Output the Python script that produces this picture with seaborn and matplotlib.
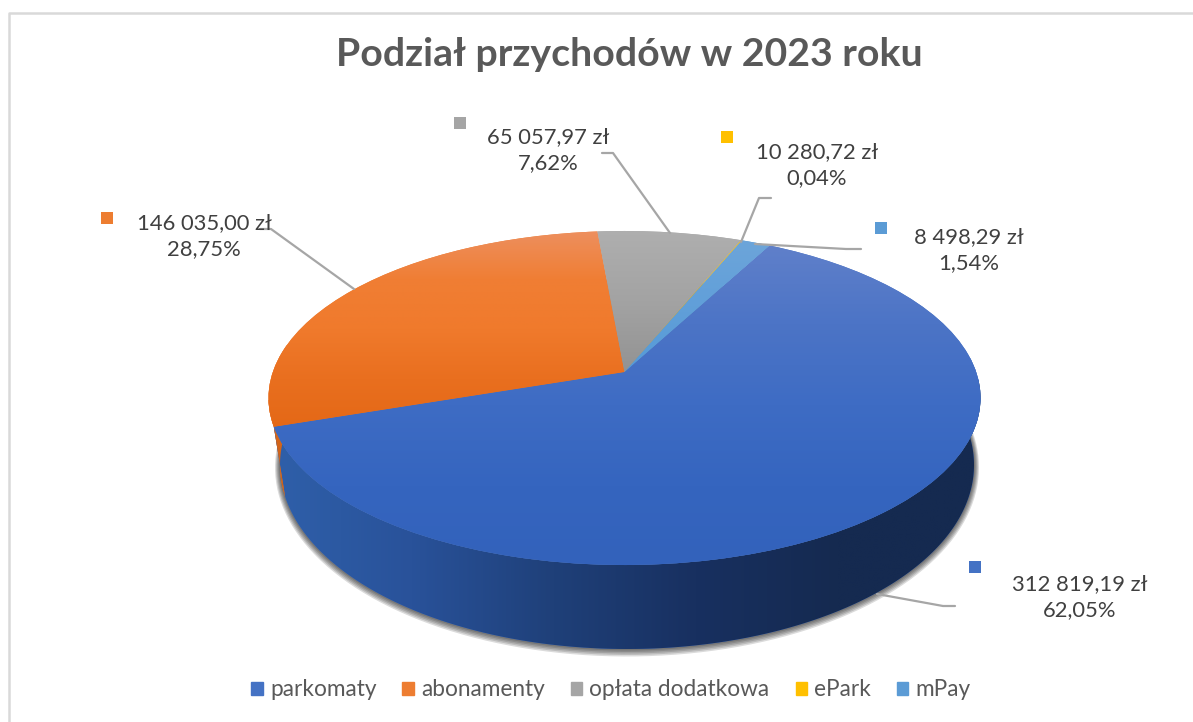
import numpy as np
import seaborn as sns
import matplotlib.pyplot as plt
from matplotlib.lines import Line2D
from matplotlib.patches import Patch, Polygon
from matplotlib.transforms import Transform

tytul = "Podział przychodów w 2023 roku"
kategorie = ["parkomaty", "abonamenty", "opłata dodatkowa", "ePark", "mPay"]
kwoty = [312819.19, 146035.00, 65057.97, 10280.72, 8498.29]
udzialy = [62.05, 28.75, 7.62, 0.04, 1.54]

kolory = ["#4472c4", "#ed7d31", "#a5a5a5", "#ffc000", "#5b9bd5"]
gradienty = [
    ["#6080ca", "#4c74c6", "#3e6cc4", "#3565bf", "#3362bb"],
    ["#ed9060", "#f07e34", "#f07a2c", "#e96f1f", "#e46816"],
    ["#afafaf", "#a3a3a3", "#929292"],
    ["#ffc000", "#ffc000"],
    ["#6da5da", "#559ad8"],
]
sciana_niebieska = ["#2f60aa", "#29529a", "#1f4079", "#183060", "#152a50", "#152a50"]

sns.set_theme(style="white")
plt.rcParams['font.family'] = ['Lato', 'DejaVu Sans']

K = 0.1557


class Tilt(Transform):
    # perspective view of the unit circle, centre of the pie sits above the ellipse centre
    input_dims = 2
    output_dims = 2

    def __init__(self, cx, cy, rx, ry):
        super().__init__()
        self.cx, self.cy, self.rx, self.ry = cx, cy, rx, ry

    def transform_non_affine(self, values):
        u, v = np.asarray(values).T
        d = 1 + K * v
        a = self.rx * np.sqrt(1 - K ** 2)
        return np.column_stack([self.cx + a * u / d,
                                self.cy - self.ry * (v + K) / d])


def kwota_tekst(x):
    return f"{x:,.2f}".replace(",", " ").replace(".", ",") + " zł"


def udzial_tekst(x):
    return f"{x:.2f}".replace(".", ",") + "%"


def luk(theta1, theta2):
    t = np.radians(np.linspace(theta1, theta2, 200))
    return np.column_stack([np.cos(t), np.sin(t)])


def gradient(stops, extent, zorder, clip, horizontal=False):
    pal = np.array(sns.blend_palette(stops, n_colors=256))
    img = pal[np.newaxis, :, :] if horizontal else pal[:, np.newaxis, :]
    im = ax.imshow(img, extent=extent, aspect='auto', zorder=zorder, interpolation='bilinear')
    im.set_clip_path(clip)


fig = plt.figure(figsize=(11.93, 7.22), dpi=100)
ax = fig.add_axes([0, 0, 1, 1])

gora = Tilt(624.5, 398, 356, 167)
dol = Tilt(627, 465, 347, 184)

wedges, _ = ax.pie(udzialy, colors=kolory, startangle=62, counterclock=False)

# soft shadow under the bottom of the disc
for d in [5, 4, 3, 2, 1]:
    cien = Tilt(dol.cx, dol.cy + 0.5 * d, dol.rx + d, dol.ry + d)
    ax.fill(*cien.transform(luk(0, 360)).T, color='black', alpha=0.14, lw=0, zorder=1)

# side wall, only the front part of the disc is visible
for i, w in enumerate(wedges):
    lo, hi = max(w.theta1, -190), min(w.theta2, 5)
    if lo >= hi:
        continue
    pts = np.vstack([gora.transform(luk(lo, hi)), dol.transform(luk(hi, lo))])
    p = Polygon(pts, closed=True, facecolor=kolory[i], lw=0, zorder=2)
    ax.add_patch(p)
    if i == 0:
        gradient(sciana_niebieska, (268, 982, 660, 380), 3, p, horizontal=True)
    else:
        gradient(["#d8681c", "#c95f18"], (268, 982, 520, 400), 3, p)

# top face, each gradient spans its own slice
for i, w in enumerate(wedges):
    w.set_transform(gora + ax.transData)
    w.set_zorder(4)
    w.set_linewidth(0)
    box = gora.transform_path(w.get_path()).get_extents()
    gradient(gradienty[i], (box.x0 - 2, box.x1 + 2, box.y1 + 2, box.y0 - 2), 5, w)

ax.set_aspect('auto')
ax.set_xlim(0, 1193)
ax.set_ylim(722, 0)
ax.axis('off')

# chart frame
ax.add_line(Line2D([8.5, 8.5, 1193], [722, 12.5, 12.5], color="#d9d9d9", lw=1.8, zorder=1))

ax.text(629, 55, tytul, ha='center', va='center', fontsize=28.3, fontweight='bold', color="#595959")

# data labels with key squares and leader lines
etykiety_xy = [(1080, 597), (204, 236), (548, 150), (817, 165), (969, 250)]
klucze_xy = [(975, 567), (107, 218), (460, 123), (727, 137), (881, 228)]
linie_xy = [
    [(955, 606), (943, 606), (877, 594)],
    [(260, 229), (271, 229), (354, 289)],
    [(602, 153), (613, 153), (670, 233)],
    [(771, 198), (759, 198), (741, 242)],
    [(861, 249), (846, 249), (755, 244)],
]
for i in range(len(kategorie)):
    ax.text(*etykiety_xy[i], kwota_tekst(kwoty[i]) + "\n" + udzial_tekst(udzialy[i]),
            ha='center', va='center', fontsize=15.8, color="#404040", linespacing=1.36, zorder=8)
    ax.scatter(*klucze_xy[i], marker='s', s=85, color=kolory[i], lw=0, zorder=8)
    xs, ys = zip(*linie_xy[i])
    ax.plot(xs, ys, color="#a6a6a6", lw=1.6, zorder=7, solid_joinstyle='round')

uchwyty = [Patch(color=c, label=k) for c, k in zip(kolory, kategorie)]
ax.legend(handles=uchwyty, loc='center', bbox_to_anchor=(611 / 1193, 1 - 690 / 722), ncol=5,
          frameon=False, fontsize=16.3, labelcolor="#595959", handlelength=0.5, handleheight=0.5,
          handletextpad=0.32, columnspacing=1.15)

fig.savefig('out.png', dpi=100)
